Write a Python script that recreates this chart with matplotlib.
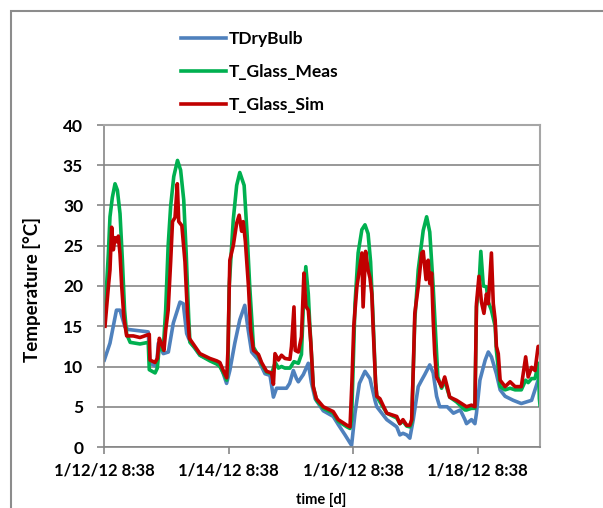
import matplotlib
matplotlib.use("Agg")
import matplotlib.pyplot as plt
from matplotlib.patches import Rectangle

plt.rcParams['font.family'] = ['Lato', 'DejaVu Sans']

# time in days after 1/12/12 8:38
t_dry = [0.005, 0.096, 0.2, 0.257, 0.337, 0.39, 0.71, 0.738, 0.845, 0.872, 0.952, 1.033,
         1.113, 1.22, 1.273, 1.327, 1.38, 1.54, 1.7, 1.86, 1.968, 2.02, 2.1, 2.18, 2.26,
         2.316, 2.37, 2.48, 2.585, 2.665, 2.72, 2.77, 2.93, 2.98, 3.04, 3.09, 3.12, 3.2,
         3.28, 3.33, 3.39, 3.52, 3.68, 3.76, 3.87, 3.975, 4.03, 4.1, 4.19, 4.27, 4.35,
         4.38, 4.54, 4.7, 4.75, 4.8, 4.86, 4.91, 4.965, 5.045, 5.1, 5.15, 5.23, 5.285,
         5.34, 5.39, 5.51, 5.61, 5.72, 5.795, 5.82, 5.9, 5.955, 5.98, 6.035, 6.12, 6.17,
         6.22, 6.3, 6.36, 6.44, 6.57, 6.7, 6.865, 6.97, 7.0]
dry_bulb = [10.8, 12.9, 17.0, 17.0, 14.9, 14.6, 14.3, 10.4, 10.0, 12.9, 11.6, 11.8,
            15.4, 18.0, 17.8, 14.1, 13.1, 11.4, 10.8, 10.4, 7.9, 9.5, 12.9, 15.8, 17.6,
            14.5, 11.8, 10.8, 9.1, 8.9, 6.2, 7.3, 7.3, 7.9, 9.5, 8.5, 8.1, 9.0,
            10.4, 8.0, 6.0, 4.5, 3.8, 2.8, 1.5, 0.2, 4.2, 7.9, 9.4, 8.5, 5.8,
            5.0, 3.4, 2.5, 1.5, 1.7, 1.5, 1.1, 3.4, 7.5, 8.3, 9.0, 10.2, 9.2,
            6.3, 5.0, 5.0, 4.2, 4.6, 3.4, 2.9, 3.4, 2.9, 4.2, 8.3, 10.8, 11.8,
            11.2, 9.1, 7.1, 6.3, 5.8, 5.4, 5.8, 8.3, 8.5]

t_meas = [0.016, 0.07, 0.096, 0.134, 0.177, 0.215, 0.257, 0.295, 0.33, 0.364, 0.42, 0.578,
          0.71, 0.727, 0.82, 0.856, 0.888, 0.95, 0.99, 1.03, 1.07, 1.12, 1.18, 1.23, 1.28,
          1.32, 1.36, 1.38, 1.46, 1.54, 1.7, 1.81, 1.86, 1.915, 1.97, 1.99, 2.01, 2.075,
          2.13, 2.18, 2.25, 2.3, 2.34, 2.4, 2.48, 2.53, 2.61, 2.69, 2.75, 2.8, 2.85,
          2.905, 2.985, 3.05, 3.12, 3.17, 3.2, 3.24, 3.28, 3.3, 3.36, 3.41, 3.52, 3.68,
          3.76, 3.9, 3.95, 3.975, 4.03, 4.08, 4.14, 4.19, 4.24, 4.28, 4.32, 4.36, 4.38,
          4.43, 4.54, 4.7, 4.75, 4.8, 4.86, 4.91, 4.94, 4.99, 5.045, 5.125, 5.18, 5.23,
          5.285, 5.34, 5.36, 5.42, 5.47, 5.51, 5.55, 5.66, 5.795, 5.82, 5.9, 5.955, 5.98,
          6.02, 6.05, 6.09, 6.14, 6.17, 6.22, 6.28, 6.3, 6.36, 6.44, 6.52, 6.6, 6.7,
          6.77, 6.81, 6.865, 6.92, 6.975, 6.99, 7.0]
glass_meas = [16.5, 24.0, 28.6, 31.0, 32.7, 31.9, 29.0, 23.2, 17.0, 14.0, 13.0, 12.8,
              13.0, 9.6, 9.2, 9.8, 12.5, 12.0, 17.0, 25.0, 29.9, 33.6, 35.6, 34.4, 30.7,
              24.0, 16.0, 13.0, 12.3, 11.4, 10.7, 10.3, 10.0, 9.2, 8.3, 10.0, 20.0, 28.2,
              32.5, 34.1, 32.5, 26.1, 19.9, 12.4, 11.3, 10.3, 9.3, 9.1, 10.5, 9.8, 10.0,
              9.8, 9.8, 10.6, 10.4, 11.5, 17.4, 22.4, 19.0, 15.8, 7.5, 5.8, 4.8, 4.2,
              3.2, 2.5, 2.3, 3.4, 17.8, 24.1, 27.0, 27.6, 26.5, 23.0, 16.0, 8.0, 6.3,
              5.6, 4.2, 3.6, 2.9, 3.2, 2.6, 2.5, 3.0, 15.8, 22.0, 26.9, 28.6, 26.7,
              19.9, 11.6, 8.7, 7.3, 8.3, 7.2, 6.2, 5.6, 4.6, 4.6, 4.8, 4.8, 17.4,
              20.0, 24.3, 20.0, 19.9, 18.0, 17.0, 15.0, 12.0, 7.5, 7.1, 7.3, 7.1, 7.1,
              8.3, 8.0, 8.5, 8.5, 10.4, 6.0, 5.2]

t_sim = [0.016, 0.07, 0.096, 0.123, 0.15, 0.177, 0.2, 0.23, 0.257, 0.284, 0.32, 0.364,
         0.47, 0.578, 0.727, 0.738, 0.819, 0.856, 0.888, 0.926, 0.963, 0.99, 1.03, 1.07,
         1.1, 1.14, 1.177, 1.2, 1.25, 1.3, 1.337, 1.37, 1.46, 1.54, 1.7, 1.81, 1.86,
         1.915, 1.97, 1.99, 2.02, 2.075, 2.13, 2.17, 2.21, 2.236, 2.27, 2.32, 2.355, 2.4,
         2.48, 2.53, 2.61, 2.69, 2.72, 2.745, 2.8, 2.85, 2.905, 2.985, 3.01, 3.05, 3.07,
         3.12, 3.17, 3.21, 3.24, 3.28, 3.32, 3.36, 3.41, 3.52, 3.68, 3.76, 3.9, 3.95,
         3.98, 4.01, 4.06, 4.1, 4.14, 4.16, 4.2, 4.24, 4.27, 4.3, 4.32, 4.36, 4.38,
         4.43, 4.54, 4.7, 4.75, 4.8, 4.86, 4.91, 4.94, 4.965, 4.99, 5.045, 5.1, 5.125,
         5.17, 5.205, 5.23, 5.26, 5.285, 5.31, 5.34, 5.42, 5.47, 5.51, 5.55, 5.66, 5.82,
         5.9, 5.955, 5.98, 6.02, 6.06, 6.1, 6.14, 6.17, 6.22, 6.25, 6.28, 6.3, 6.33,
         6.36, 6.44, 6.52, 6.6, 6.7, 6.77, 6.81, 6.865, 6.92, 6.97, 7.0]
glass_sim = [15.0, 19.9, 22.0, 27.3, 24.5, 26.0, 25.5, 26.2, 24.0, 20.0, 16.0, 13.8,
             13.8, 13.6, 14.0, 10.8, 10.5, 11.0, 13.5, 12.8, 12.0, 14.5, 17.0, 23.0,
             28.0, 28.5, 32.7, 28.0, 27.5, 23.0, 17.0, 13.5, 12.5, 11.6, 11.0, 10.7, 10.5,
             9.5, 8.6, 12.0, 23.2, 25.0, 27.8, 28.8, 26.8, 28.0, 25.5, 19.9, 14.5, 12.0,
             11.5, 10.5, 9.4, 9.2, 7.8, 11.6, 10.8, 11.4, 11.0, 10.9, 12.5, 17.4, 12.0,
             11.8, 13.7, 21.6, 17.5, 17.0, 13.0, 7.5, 6.0, 5.0, 4.4, 3.4, 2.7, 2.5,
             8.0, 15.0, 19.9, 22.0, 24.1, 17.4, 24.3, 22.0, 21.0, 19.0, 15.0, 8.0, 6.3,
             6.0, 4.2, 3.8, 2.9, 3.4, 2.7, 2.7, 3.4, 9.6, 16.6, 19.9, 24.1, 24.3,
             20.8, 23.2, 20.3, 21.6, 15.8, 11.6, 8.7, 7.5, 8.7, 7.5, 6.2, 5.8, 5.0,
             5.2, 5.0, 17.8, 21.2, 18.0, 16.6, 19.0, 17.8, 24.1, 17.8, 15.8, 12.5, 11.6,
             8.3, 7.5, 8.1, 7.5, 7.5, 11.2, 8.7, 9.9, 9.5, 12.5, 12.5]

tick_days = [0, 2, 4, 6]
tick_labels = ['1/12/12 8:38', '1/14/12 8:38', '1/16/12 8:38', '1/18/12 8:38']

fig = plt.figure(figsize=(6.03, 5.08), dpi=100)
fig.patches.append(Rectangle((11 / 603, -0.1), 1.1, 1 - 11 / 508 + 0.1,
                             transform=fig.transFigure, fill=False,
                             edgecolor='#8c8c8c', linewidth=1.5))

ax = fig.add_axes([104 / 603, 1 - 447 / 508, 436 / 603, 322 / 508])
ax.plot(t_dry, dry_bulb, color='#4f81bd', lw=2.6, label='TDryBulb')
ax.plot(t_meas, glass_meas, color='#00b050', lw=2.6, label='T_Glass_Meas')
ax.plot(t_sim, glass_sim, color='#c00000', lw=2.6, label='T_Glass_Sim')

ax.set_xlim(0, 7)
ax.set_ylim(0, 40)
ax.set_yticks(range(0, 41, 5))
ax.set_xticks(tick_days)
ax.set_xticklabels(tick_labels)
ax.grid(True, axis='y', color='#868686', lw=1.2)
ax.set_axisbelow(True)
for s in ['top', 'right']:
    ax.spines[s].set_color('#a6a6a6')
    ax.spines[s].set_linewidth(1.5)
for s in ['left', 'bottom']:
    ax.spines[s].set_color('#868686')
    ax.spines[s].set_linewidth(1.2)
ax.tick_params(axis='both', direction='out', length=5, width=1.2, color='#868686')
ax.tick_params(axis='y', pad=10, labelsize=12.5)
ax.tick_params(axis='x', pad=6, labelsize=12)
for lbl in ax.get_xticklabels() + ax.get_yticklabels():
    lbl.set_fontweight('bold')

fig.text(32 / 603, 1 - 290 / 508, 'Temperature [°C]', rotation=90, ha='center',
         va='center', fontsize=13.5, fontweight='bold')
fig.text(321 / 603, 1 - 500 / 508, 'time [d]', ha='center', va='center',
         fontsize=10.5, fontweight='bold')

fig.legend(loc='upper left', bbox_to_anchor=(165 / 603, 1 - 15 / 508), frameon=False,
           prop={'weight': 'bold', 'size': 12.5}, handlelength=2.6, handletextpad=0.15,
           labelspacing=1.0)

fig.savefig('out.png', dpi=100)
